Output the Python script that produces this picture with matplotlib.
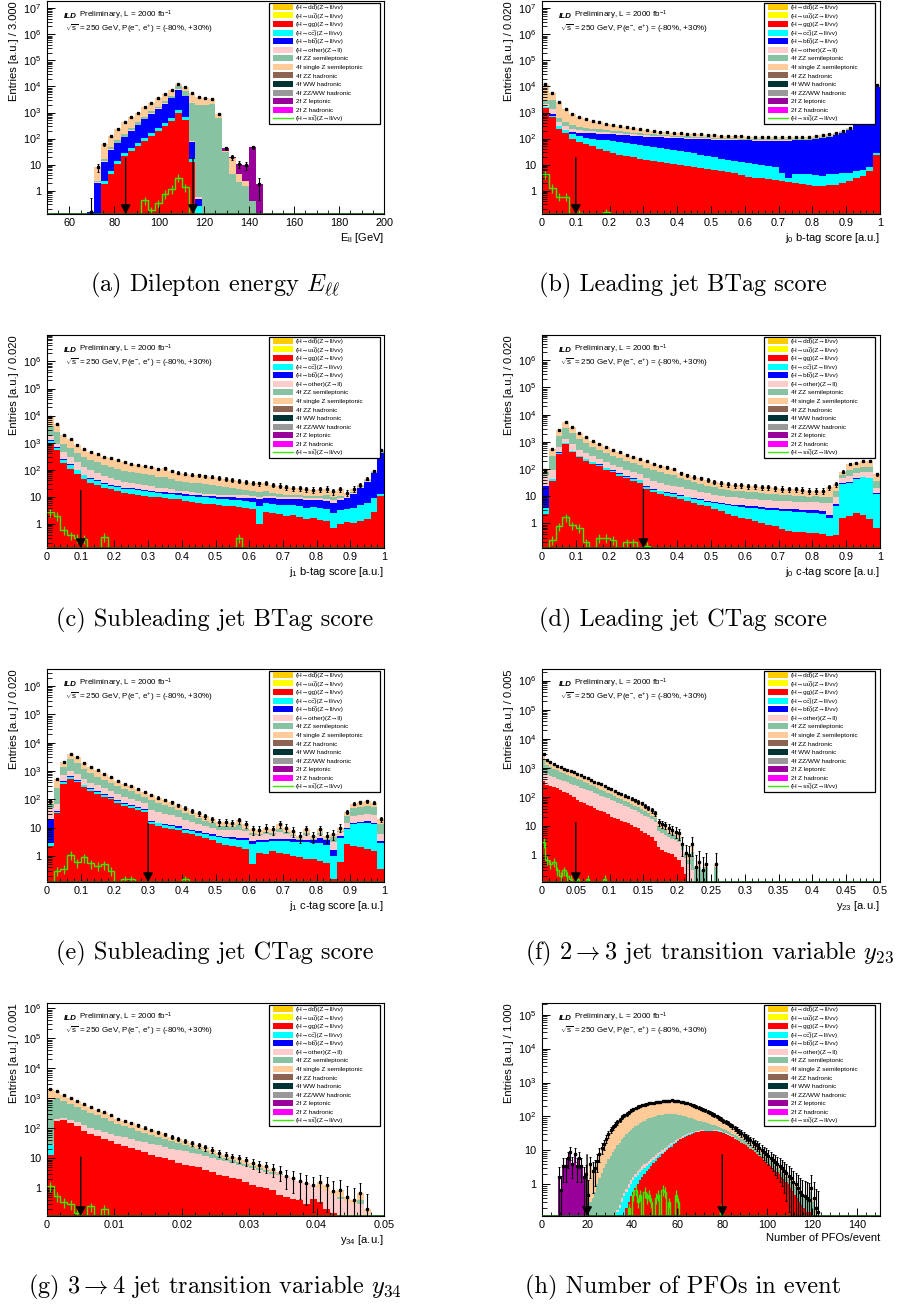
import numpy as np
import matplotlib
matplotlib.use("Agg")
import matplotlib.pyplot as plt
from matplotlib.patches import Rectangle
from matplotlib.lines import Line2D
from matplotlib.ticker import FixedLocator, FuncFormatter, LogLocator, NullFormatter, AutoMinorLocator
from matplotlib.offsetbox import TextArea, HPacker, AnchoredOffsetbox

plt.rcParams['font.family'] = ['Liberation Sans', 'DejaVu Sans']
plt.rcParams['mathtext.fontset'] = 'custom'
plt.rcParams['mathtext.rm'] = 'Liberation Sans'
plt.rcParams['mathtext.it'] = 'Liberation Sans:italic'
plt.rcParams['mathtext.bf'] = 'Liberation Sans:bold'

# colours (stack order bottom -> top)
C_RED, C_CYAN, C_BLUE, C_PINK = '#ff0000', '#00ffff', '#0000ff', '#ffcccc'
C_GREEN, C_PEACH, C_PURPLE = '#87c3a3', '#ffcc99', '#990099'
C_SIG = '#33ee00'

OV = '\u0305'  # combining overline for anti-quarks
legend_labels = [
    "(H→dd" + OV + ")(Z→ll/vv)", "(H→uu" + OV + ")(Z→ll/vv)",
    "(H→gg)(Z→ll/vv)", "(H→cc" + OV + ")(Z→ll/vv)", "(H→bb" + OV + ")(Z→ll/vv)",
    "(H→other)(Z→ll)", "4f ZZ semileptonic", "4f single Z semileptonic",
    "4f ZZ hadronic", "4f WW hadronic", "4f ZZ/WW hadronic",
    "2f Z leptonic", "2f Z hadronic",
]
legend_colors = ['#ffcc00', '#ffff00', C_RED, C_CYAN, C_BLUE, C_PINK, C_GREEN, C_PEACH,
                 '#8c6451', '#003333', '#999999', C_PURPLE, '#ff00ff']
signal_label = "(H→ss" + OV + ")(Z→ll/vv)"

# ---------------- (a) dilepton energy, bins of 3 GeV from 68 to 146
a_red = [0, 0, 1.8, 4.3, 11, 21, 32, 53, 80, 125, 200, 310, 480, 980, 530, 13, 0, 0, 0, 0, 0, 0, 0, 0, 0, 0]
a_cyan = [0, 0, 2.3, 5.6, 14, 27, 42, 68, 104, 162, 260, 400, 620, 1270, 690, 16, 0.25, 0, 0, 0, 0, 0, 0, 0, 0, 0]
a_blue = [0.15, 1.9, 13, 37, 65, 115, 200, 330, 560, 900, 1400, 2200, 3500, 7500, 4200, 75, 0.5, 0, 0, 0, 0, 0, 0, 0, 0, 0]
a_pink = [0.15, 2.1, 14, 39, 68, 120, 210, 345, 585, 940, 1460, 2300, 3650, 7800, 4400, 80, 0.55, 0, 0, 0, 0, 0, 0, 0, 0, 0]
a_green = [0.15, 2.4, 17, 48, 85, 150, 260, 420, 700, 1100, 1700, 2700, 4300, 10000, 6500, 2300, 2000, 1900, 2100, 600,
           30, 4.3, 2.1, 1.5, 0.4, 0]
a_peach = [0.15, 8, 62, 125, 240, 420, 650, 1000, 1600, 2400, 3500, 5300, 7500, 12500, 9500, 5500, 4100, 3600, 3400, 900,
           32, 18, 4.3, 2.4, 0.4, 0]
a_purple = [0, 0, 0, 0, 0, 0, 0, 0, 0, 0, 0, 0, 0, 0, 0, 0, 0, 0, 0, 0, 42, 20, 11, 9.5, 46, 1.8]
a_signal = [0, 0, 0, 0, 0, 0, 0, 0, 0.44, 0.18, 0.33, 0.77, 1.2, 3.2, 1.4]

# ---------------- (b) leading jet b-tag, 50 bins
b_red = [1500, 650, 240, 160, 100, 75, 60, 50, 40, 33, 28, 24, 21, 19, 17, 15, 14, 13, 12, 11,
         10, 9, 8.3, 7.6, 7, 6.4, 5.8, 5.2, 4.6, 4.0, 3.5, 3.2, 3.0, 2.8, 2.6, 2.4, 2.2, 2.0, 1.8, 1.6,
         1.5, 1.5, 1.6, 1.7, 2.0, 2.4, 3.0, 3.7, 5.7, 24]
b_cyan = [1600, 750, 300, 210, 150, 125, 110, 100, 92, 85, 78, 72, 66, 61, 56, 52, 48, 44, 40, 36,
          33, 30, 27, 24, 21, 19, 17, 15.5, 14, 13, 12, 11, 10, 9, 8, 5, 3.2, 4.2, 4.5, 4.2,
          4.0, 3.6, 4.2, 4.4, 4.6, 5, 5.5, 6.5, 8, 27]
b_blue = [1700, 900, 290, 200, 175, 170, 165, 160, 155, 150, 145, 140, 135, 130, 125, 120, 116, 113, 110, 106,
          103, 100, 98, 96, 94, 92, 90, 88, 87, 86, 85, 84, 84, 83, 83, 83, 84, 85, 86, 88,
          93, 102, 116, 135, 163, 216, 325, 560, 1320, 9400]
b_pink = [2200, 1400, 420, 300, 240, 220, 200, 190, 180, 172, 165, 158, 152, 146, 140, 134, 129, 125, 121, 117,
          113, 110, 108, 105, 103, 100, 98, 96, 94, 92, 90, 89, 88, 87, 87, 87, 88, 89, 90, 92,
          97, 106, 120, 140, 168, 222, 335, 575, 1350, 9600]
b_green = [2700, 3000, 640, 450, 330, 290, 260, 240, 225, 210, 200, 190, 180, 170, 160, 152, 146, 140, 134, 128,
           124, 121, 118, 115, 112, 109, 106, 104, 102, 100, 98, 96, 95, 94, 93, 93, 94, 95, 96, 98,
           103, 112, 127, 147, 175, 230, 345, 590, 1380, 9800]
b_total = [12000, 5700, 2500, 1400, 900, 700, 560, 480, 420, 370, 330, 300, 275, 250, 225, 205, 195, 185, 175, 165,
           160, 155, 150, 145, 140, 135, 130, 128, 125, 123, 120, 118, 117, 116, 115, 115, 116, 117, 118, 120,
           125, 135, 150, 170, 200, 260, 380, 650, 1500, 11000]
b_signal = [4.3, 1.3, 0.6, 0.6, 0, 0.14, 0, 0, 0, 0.15]

# ---------------- (c) subleading jet b-tag
c_red = [1000, 550, 170, 110, 70, 46, 33, 27, 22, 19, 16, 14, 13, 12, 11, 10, 9.5, 9, 8.5, 8,
         7, 6.5, 6, 5.5, 5.3, 5, 4.7, 4.4, 4.2, 4, 3.6, 1.0, 2.8, 2.6, 2.3, 2.0, 2.2, 1.8, 1.5, 1.6,
         1.4, 1.3, 0.7, 1.0, 1.2, 1.1, 1.3, 1.5, 2.8, 11]
c_cyan = [1200, 650, 230, 150, 95, 62, 45, 37, 30, 26, 23, 20, 19, 17.5, 16, 15, 14, 13, 12.5, 12,
          11, 10.5, 10, 9.5, 9, 8.5, 8, 7.8, 7.5, 7, 6.5, 4.5, 6, 5.5, 5, 4.8, 5, 4.5, 4, 4.2,
          4, 3.6, 2.5, 3.2, 3.5, 4, 5, 6, 9, 13]
c_blue = [1300, 700, 250, 160, 100, 66, 48, 40, 33, 28, 25, 22, 20.5, 19, 17.5, 16.5, 15.5, 14.5, 14, 13.5,
          12.5, 12, 11.5, 11, 10.5, 10, 9.8, 9.6, 9.4, 9.2, 9, 8, 9, 8.8, 8.5, 8.2, 8.5, 8, 7.5, 7.8,
          7.5, 7, 6, 7.5, 9, 13, 22, 35, 75, 400]
c_pink = [1800, 900, 450, 300, 190, 130, 95, 75, 60, 50, 42, 36, 32, 29, 27, 24, 22, 22, 19, 17,
          16, 15, 14, 13, 12.5, 12, 11.8, 11.6, 11.4, 11.2, 11, 10, 11, 10.5, 10, 9.8, 10, 9.5, 9, 9.2,
          9, 8.5, 7.5, 9, 10.5, 14, 23, 37, 78, 410]
c_green = [4300, 2400, 900, 650, 420, 300, 230, 190, 150, 130, 110, 92, 82, 75, 70, 62, 55, 56, 46, 39,
           36, 33, 31, 29, 27, 25, 23, 21, 19, 18, 16, 15, 16, 14, 13, 12, 11.5, 11.5, 11, 10.5,
           11, 11.5, 9.5, 11, 9, 15, 24, 40, 82, 480]
c_total = [8700, 4900, 1950, 1380, 850, 600, 460, 380, 300, 260, 220, 185, 165, 150, 140, 125, 110, 112, 92, 78,
           72, 66, 62, 58, 55, 50, 46, 42, 39, 36, 33, 31, 32, 28, 26, 23, 21, 21, 19, 18,
           19, 20, 16, 19, 14, 20, 28, 47, 90, 550]
c_signal = [2.7, 2.0, 0.6, 0.38, 0.3, 0.28, 0, 0, 0.33, 0, 0, 0, 0, 0, 0, 0, 0, 0, 0, 0,
            0, 0, 0, 0, 0, 0, 0, 0, 0.3]

# ---------------- (d) leading jet c-tag
d_red = [2.2, 37, 360, 800, 410, 270, 200, 160, 130, 95, 75, 57, 45, 37, 32, 18, 14, 12, 10, 9,
         7.7, 6.5, 5.5, 4.8, 4.2, 3.3, 2.8, 2.3, 1.9, 1.6, 1.4, 1.2, 1.0, 0.9, 0.8, 0.6, 0.55, 0.5, 0.5, 0.45,
         0.45, 0.4, 0.34, 0.39, 1.6, 1.9, 2.5, 2.0, 1.4, 0.7]
d_cyan = [3.8, 42, 400, 880, 450, 300, 225, 180, 145, 108, 86, 66, 53, 44, 38, 22, 17.5, 15, 13, 12,
          10.5, 9, 8, 7, 6.3, 5.5, 5, 4.6, 4.3, 4, 3.8, 3.6, 3.4, 3.2, 3, 2.9, 2.8, 2.7, 2.6, 2.5,
          2.5, 2.3, 1.6, 4.4, 28, 32, 42, 49, 45, 12]
d_blue = [24, 44, 420, 920, 470, 315, 235, 188, 152, 113, 90, 69, 56, 46, 40, 23, 18.5, 16, 14, 12.8,
          11.2, 9.7, 8.6, 7.6, 6.9, 6.1, 5.6, 5.2, 4.9, 4.6, 4.4, 4.2, 4.0, 3.8, 3.6, 3.5, 3.4, 3.3, 3.2, 3.1,
          3.1, 2.9, 2.1, 5.2, 30, 34, 45, 52, 48, 13]
d_pink = [60, 90, 650, 1300, 800, 520, 380, 300, 240, 180, 145, 115, 95, 80, 68, 45, 37, 31, 27, 24,
          21, 18.5, 16.5, 14.5, 13, 11.5, 10.5, 9.5, 9, 8.5, 8, 7.7, 7.4, 7, 6.8, 6.6, 6.5, 6.4, 6.2, 6,
          6, 5.8, 5.5, 9, 45, 55, 70, 80, 75, 20]
d_green = [75, 300, 1700, 3300, 2100, 1300, 880, 650, 500, 390, 310, 250, 205, 170, 140, 110, 92, 78, 66, 58,
           45, 39, 33, 28, 24, 21, 19, 17.5, 16, 15, 14.5, 14, 13, 12.5, 12, 11.5, 11, 10.5, 10, 9.5,
           10, 9.5, 9, 15, 60, 90, 105, 120, 120, 35]
d_total = [90, 560, 2700, 5500, 3500, 2200, 1500, 1100, 850, 650, 520, 420, 340, 280, 230, 190, 160, 135, 115, 100,
           70, 60, 52, 45, 39, 34, 30, 28, 26, 25, 24, 23, 22, 21, 20, 19, 18, 18, 17, 16,
           16, 16, 22, 28, 80, 150, 170, 200, 200, 65]
d_signal = [0, 0.25, 0.8, 1.7, 0.85, 0.7, 0.2, 0, 0.3, 0.3, 0.25, 0, 0.2, 0.2, 0, 0.15]

# ---------------- (e) subleading jet c-tag
e_red = [2.2, 32, 350, 520, 400, 270, 200, 160, 125, 100, 75, 60, 50, 43, 36, 13, 11.5, 10, 9, 8,
         6.6, 5.8, 5, 4.3, 3.7, 2.9, 2.5, 2.2, 2.0, 1.8, 0.5, 1.3, 1.2, 1.5, 1.3, 1.2, 1.0, 0.9, 0.8, 0.75,
         0.65, 0.55, 0.15, 0.6, 2.6, 2.2, 2.0, 1.8, 1.5, 0.34]
e_cyan = [2.8, 37, 400, 600, 460, 310, 230, 185, 145, 115, 87, 70, 58, 50, 42, 15.5, 14, 12, 11, 10,
          8.5, 7.5, 6.5, 5.8, 5.2, 4.5, 4.2, 4, 3.8, 3.6, 2.6, 3.0, 3.0, 3.3, 3.4, 3.3, 3.2, 3.0, 3.0, 2.9,
          2.9, 2.5, 1.0, 4.4, 8.6, 13, 14, 15, 13, 2.9]
e_blue = [20, 40, 430, 640, 490, 330, 245, 197, 155, 123, 93, 75, 62, 53, 45, 16.5, 15, 13, 12, 11,
          9.3, 8.3, 7.3, 6.5, 5.8, 5.2, 4.8, 4.6, 4.4, 4.2, 3.4, 3.6, 3.7, 4.0, 4.1, 4.0, 3.9, 3.7, 3.8, 3.8,
          4.4, 3.8, 1.6, 5.2, 9.5, 15, 16, 17, 15, 3.3]
e_pink = [50, 70, 750, 1000, 780, 520, 390, 310, 245, 195, 150, 120, 100, 85, 72, 42, 36, 31, 27, 23,
          19, 16, 13.5, 11.5, 10, 8.5, 8.2, 8, 8.5, 7.5, 5.5, 5.3, 6, 5.5, 7, 6, 5.2, 3.8, 5.5, 3.8,
          5.5, 3.8, 3.2, 7, 15, 25, 28, 30, 27, 6]
e_green = [70, 250, 1400, 2600, 1900, 1150, 820, 600, 470, 370, 290, 235, 190, 150, 120, 95, 76, 63, 52, 42,
           34, 27, 22, 17.5, 14, 11, 11, 10.5, 12.5, 9, 6.3, 6, 7.2, 6.3, 9, 7.2, 5.6, 4, 6.3, 4,
           6.3, 4, 4.5, 7.5, 25, 48, 54, 60, 52, 13]
e_total = [85, 530, 2100, 4000, 3100, 1900, 1400, 1050, 800, 600, 450, 360, 290, 230, 180, 145, 115, 95, 78, 63,
           50, 40, 32, 25, 20, 15.6, 15.6, 15, 18, 13, 8.6, 8.3, 10, 8.6, 13, 10, 7.5, 5, 8.6, 5,
           8.6, 5, 6, 10, 35, 70, 78, 85, 75, 20]
e_signal = [0, 0.3, 0.35, 1.1, 0.6, 0.9, 0.55, 0.45, 0.5, 0.3, 0, 0.15, 0.15, 0, 0, 0, 0, 0, 0, 0, 0.15]

# ---------------- (f) y23, bins of 0.005 (only filled range listed)
f_red = [350, 260, 230, 215, 200, 175, 150, 133, 117, 97, 80, 70, 60, 55, 50, 42, 36, 33, 31, 26,
         21, 19, 17, 15.5, 14, 12.5, 11, 9.5, 8.3, 7, 6, 5, 4.3, 3, 1.9, 1.5, 1.3, 1.2, 1.1, 0.9,
         0.67, 0.4, 0.23]
f_pink = [800, 600, 520, 470, 430, 390, 350, 320, 290, 260, 235, 210, 190, 170, 155, 140, 125, 112, 100, 90,
          80, 72, 64, 57, 51, 45, 40, 35, 31, 27, 23, 20, 17, 14, 7, 6, 5, 4.2, 3.6, 3.2,
          2.9, 1.5, 0.8, 0.5, 0.3]
f_green = [2000, 1300, 1100, 920, 820, 720, 650, 580, 520, 470, 420, 370, 330, 295, 260, 230, 200, 180, 160, 140,
           122, 107, 94, 83, 74, 66, 58, 51, 45, 39, 33, 28, 23, 19, 10, 8.5, 7.5, 6, 5.5, 4.8,
           4, 2, 1.1, 0.7, 1.3, 0.35, 0.4, 0.3, 0.4, 0, 0, 0.4]
f_total = [3000, 1900, 1600, 1350, 1200, 1050, 950, 850, 760, 700, 620, 550, 490, 440, 390, 340, 300, 270, 240, 210,
           185, 160, 140, 125, 112, 100, 88, 78, 68, 60, 50, 42, 35, 28, 14, 12, 11, 8.5, 7.5, 6.5,
           5.6, 2.5, 1.2, 1.0, 2.5, 0.4, 0.6, 0.3, 0.5, 0, 0, 0.5]
f_signal = [2.8, 0.7, 0.5, 0.6, 0.3, 0.2, 0.3, 0.2, 0.15, 0, 0.15, 0, 0, 0.15, 0, 0, 0, 0, 0.15]

# ---------------- (g) y34, bins of 0.001
g_red = [13, 170, 185, 150, 120, 80, 65, 55, 45, 37, 29, 25, 22, 19, 16, 13, 11.5, 10, 8.5, 7,
         6, 5.5, 5, 4.2, 3.5, 2.8, 2.5, 2.2, 2, 1.6, 1.3, 1.1, 1.0, 0.9, 0.6, 0.5, 0.45, 0.4, 0.3, 0.45,
         0.35, 0.2, 0.15]
g_cyan = [28]
g_pink = [30, 200, 215, 185, 160, 125, 105, 90, 78, 66, 57, 50, 44, 39, 34, 30, 27, 24, 21, 19,
          17, 15, 13.5, 12, 10.5, 9, 8, 7, 6.2, 5.4, 4.7, 4.1, 3.6, 3.1, 2.8, 2.4, 2, 1.7, 1.4, 1.3,
          1.0, 0.8, 0.6, 0.45, 0.35, 0.3, 0.3, 0.15]
g_green = [900, 1000, 800, 640, 520, 400, 330, 270, 220, 180, 140, 118, 100, 83, 70, 58, 50, 43, 37, 32,
           28, 24, 20, 17, 14.5, 12, 10, 8.5, 7.5, 6.5, 5.6, 4.8, 4.2, 3.6, 3, 2.4, 1.9, 1.5, 1.2, 1.0,
           1.0, 0.8, 0.6, 0.5, 0.35, 0.3, 0.4, 0.15]
g_total = [2000, 1700, 1300, 1000, 800, 640, 520, 420, 340, 270, 210, 177, 150, 125, 105, 88, 75, 63, 53, 45,
           38, 32, 27, 23, 19, 15, 13, 11, 10, 8.5, 7, 6, 5.5, 4.5, 3.6, 2.5, 2.2, 1.8, 1.5, 1.2,
           1.6, 1.3, 0.8, 0.9, 0.5, 0.4, 0.7, 0.2]
g_signal = [1.2, 0.55, 0.35, 0.3, 0.15, 0, 0.25, 0, 0.2]

# ---------------- (h) number of PFOs, bins of 1 from 6 to 124
h_red = [0, 0, 0, 0, 0, 0, 0, 0, 0, 0,
         0, 0, 0, 0, 0, 0, 0, 0, 0, 0,
         0, 0, 0, 0, 0, 0, 0, 0, 0, 0,
         0, 0.2, 0.3, 0.45, 0.6, 0.8, 1.0, 1.3, 1.6, 2.0,
         2.4, 2.9, 3.5, 4.2, 5.0, 5.8, 6.6, 7.6, 8.7, 10,
         11.5, 13, 15, 17, 19, 21, 23, 25, 27, 29,
         31, 33, 34, 35, 37, 37, 38, 38, 38, 38,
         37, 37, 36, 35, 33, 31, 29, 27, 25, 22,
         20, 18.5, 17, 15.5, 14, 12.5, 11, 10, 9, 8,
         7, 6, 5.3, 4.6, 4.0, 3.5, 3.0, 2.6, 2.3, 2.0,
         1.7, 1.4, 1.2, 1.0, 0.8, 0.65, 0.5, 0.4, 0.3, 0.25,
         0.2, 0.15, 0.15, 0.15, 0, 0, 0, 0]
h_cyan = [0, 0, 0, 0, 0, 0, 0, 0, 0, 0,
          0, 0, 0, 0, 0, 0, 0, 0, 0, 0,
          0, 0, 0, 0, 0, 0, 0, 0.15, 0.2, 0.3,
          0.45, 0.6, 0.8, 1.0, 1.3, 1.6, 1.9, 2.3, 2.7, 3.1,
          3.5, 4.0, 4.6, 5.3, 6.0, 6.8, 7.6, 8.6, 9.7, 11,
          12.5, 14, 16, 18, 20, 22, 24, 26, 28, 30,
          32, 34, 35, 36, 38, 38, 39, 39, 39, 39,
          38, 38, 37, 36, 34]
h_pink = [0, 0, 0, 0, 0, 0, 0, 0, 0, 0,
          0, 0, 0, 0, 0, 0, 0, 0, 0, 0,
          0, 0, 0, 0, 0, 0, 0, 0.18, 0.25, 0.4,
          0.55, 0.75, 1.0, 1.3, 1.6, 2.0, 2.4, 2.9, 3.4, 3.9,
          4.4, 5.0, 5.7, 6.5, 7.3, 8.2, 9.2, 10.3, 11.5, 13,
          14.5, 16, 18, 20, 22, 24, 26, 28, 30, 32,
          34, 36, 37, 38, 40, 40, 41, 41, 41, 41,
          40, 40, 39, 38, 36, 33, 31, 29, 27, 24]
h_green = [0, 0, 0, 0, 0, 0, 0, 0, 0, 0,
           0, 0, 0, 0, 0, 0.3, 0.4, 0.6, 1.0, 1.5,
           2.2, 3.0, 4.0, 5.5, 7, 9, 11, 14, 17, 21,
           25, 30, 35, 40, 46, 52, 58, 64, 70, 76,
           82, 88, 93, 98, 103, 107, 110, 113, 115, 117,
           118, 118, 117, 115, 112, 108, 104, 100, 96, 92,
           88, 84, 80, 76, 73, 70, 67, 64, 61, 58,
           55, 52, 49, 46, 43, 40, 37, 34, 31, 28,
           26, 24, 22, 20, 18, 16, 14.5, 13, 11.5, 10,
           9, 8, 7, 6.2, 5.5, 4.8, 4.2, 3.6, 3.1, 2.7,
           2.3, 2.0, 1.7, 1.4, 1.2, 1.0, 0.85, 0.7, 0.6, 0.5,
           0.45, 0.4, 0.35, 0.6, 0.3, 0, 0, 0]
h_peach = [0, 0, 0, 0, 0, 0, 0, 0, 0, 0,
           0, 0, 0, 0, 0.5, 4, 2.5, 3, 5, 8,
           12, 15, 22, 30, 40, 48, 58, 68, 80, 95,
           108, 120, 135, 150, 165, 180, 195, 205, 215, 225,
           235, 245, 250, 255, 262, 268, 275, 280, 285, 290,
           295, 300, 295, 290, 285, 275, 265, 255, 245, 232,
           220, 208, 195, 182, 170, 160, 150, 140, 130, 120,
           110, 100, 92, 84, 76, 70, 64, 57, 51, 45,
           40, 36, 32, 28, 25, 22, 20, 17.5, 15.5, 14,
           12, 10.5, 9, 8, 7, 6, 5.2, 4.5, 4, 3.5,
           3, 2.5, 2.1, 1.8, 1.5, 1.2, 1.0, 0.8, 0.6, 0.5,
           0.45, 0.4, 0.35, 0.8, 0.4, 0.2, 0.15, 0]
h_purple = [0, 1.7, 0.7, 3.5, 3.5, 6, 9, 4, 8, 3.5,
            6, 3.5, 1.7, 2]
h_signal = [0, 0, 0, 0, 0, 0, 0, 0, 0, 0,
            0, 0, 0, 0, 0, 0, 0, 0, 0, 0,
            0, 0, 0, 0, 0, 0, 0, 0, 0, 0,
            0, 0, 0.2, 0, 0.5, 0.7, 0.3, 0.5, 0, 0.6,
            0.4, 0.5, 0.3, 0, 0.4, 0.5, 0, 0.7, 0.6, 0,
            0.3, 0, 0, 0.5, 0.3, 0, 0, 0, 0, 0,
            0, 0, 0, 0, 0, 0, 0, 0, 0, 0,
            0, 0, 0, 0.2]

captions = ["(a) Dilepton energy $E_{\\ell\\ell}$", "(b) Leading jet BTag score",
            "(c) Subleading jet BTag score", "(d) Leading jet CTag score",
            "(e) Subleading jet CTag score", "(f) $2 \\rightarrow 3$ jet transition variable $y_{23}$",
            "(g) $3 \\rightarrow 4$ jet transition variable $y_{34}$", "(h) Number of PFOs in event"]

W, H = 901, 1306
fig = plt.figure(figsize=(W / 100, H / 100), dpi=100)
fig.patch.set_facecolor('white')


def fit(v, n):
    v = [float(x) for x in v][:n]
    return np.array(v + [0.0] * (n - len(v)))


def ylog_fmt(v, pos):
    if v <= 0:
        return ''
    e = np.log10(v)
    if abs(e - round(e)) > 1e-6:
        return ''
    e = int(round(e))
    if e == 0:
        return '1'
    if e == 1:
        return '10'
    if e < 0:
        return ''
    return '$10^{%d}$' % e


def add_axes(px_l, px_t, px_r, px_b):
    ax = fig.add_axes([px_l / W, 1 - px_b / H, (px_r - px_l) / W, (px_b - px_t) / H])
    return ax, px_r - px_l, px_b - px_t


def draw_legend(ax, wpx, hpx):
    # legend box laid out in pixels from the axes' top-left corner
    fx = lambda p: p / wpx
    fy = lambda p: 1 - p / hpx
    ax.add_patch(Rectangle((fx(222), fy(123)), fx(333) - fx(222), fy(1.5) - fy(123), transform=ax.transAxes,
                           facecolor='white', edgecolor='black', lw=0.9, zorder=10, clip_on=False))
    step = 8.56
    for i, (lab, col) in enumerate(zip(legend_labels + [signal_label], legend_colors + [None])):
        yc = 5.9 + i * step
        if col is None:
            ax.add_line(Line2D([fx(225.5), fx(245.5)], [fy(yc), fy(yc)], transform=ax.transAxes,
                               color=C_SIG, lw=1.0, zorder=11))
        else:
            ax.add_patch(Rectangle((fx(225.5), fy(yc + 3.0)), fx(20), 6.0 / hpx, transform=ax.transAxes,
                                   facecolor=col, edgecolor='none', zorder=11))
        ax.text(fx(249), fy(yc + 2.2), lab, transform=ax.transAxes, fontsize=4.6, va='baseline',
                ha='left', color='black', zorder=12)


def panel(ax, wpx, hpx, edges, layers, signal, xlim, ylim, xticks, xminor, xlabel, ylabel, cuts, arrow_top,
          err_w=1.0):
    n = len(edges) - 1
    vals = np.vstack([fit(v, n) for v, _ in layers])
    tops = np.maximum.accumulate(vals, axis=0)
    lo = 1e-3
    for k in range(len(layers) - 1, -1, -1):
        t = np.where(tops[k] > 0, tops[k], lo)
        ax.stairs(t, edges, baseline=lo, fill=True, color=layers[k][1], lw=0, zorder=1)

    total = tops[-1]
    centers = 0.5 * (edges[:-1] + edges[1:])
    m = total > 0
    err = np.sqrt(total[m] * err_w)
    ax.errorbar(centers[m], total[m], yerr=[np.minimum(err, total[m] * 0.999), err], fmt='s', ms=1.4,
                color='black', elinewidth=0.8, capsize=1.0, capthick=0.7, zorder=4)

    sig = fit(signal, n)
    ax.stairs(np.where(sig > 0, sig, lo), edges, baseline=None, color=C_SIG, lw=1.0, zorder=3)
    ms = sig > 0
    ax.errorbar(centers[ms], sig[ms], yerr=0.35 * sig[ms], fmt='none', ecolor=C_SIG, elinewidth=0.9, zorder=3)

    ax.set_yscale('log')
    ax.set_xlim(*xlim)
    ax.set_ylim(*ylim)
    ax.axhline(ylim[0], color='#1d5a1d', lw=2.0, zorder=3)

    for c in cuts:
        ax.annotate('', xy=(c, ylim[0]), xytext=(c, arrow_top),
                    arrowprops=dict(arrowstyle='-|>,head_length=0.55,head_width=0.3', color='black',
                                    lw=1.0, shrinkA=0, shrinkB=0, mutation_scale=10), zorder=5)

    ax.xaxis.set_major_locator(FixedLocator(xticks))
    ax.xaxis.set_major_formatter(FuncFormatter(lambda v, p: '%g' % round(v, 6)))
    ax.xaxis.set_minor_locator(AutoMinorLocator(xminor))
    ax.yaxis.set_major_locator(LogLocator(base=10, numticks=20))
    ax.yaxis.set_minor_locator(LogLocator(base=10, subs=np.arange(2, 10), numticks=20))
    ax.yaxis.set_major_formatter(FuncFormatter(ylog_fmt))
    ax.yaxis.set_minor_formatter(NullFormatter())
    ax.tick_params(which='both', direction='in', top=False, right=False, labelsize=7.8)
    ax.tick_params(axis='x', which='major', length=6, width=0.7, pad=3)
    ax.tick_params(axis='x', which='minor', length=3, width=0.6)
    ax.tick_params(axis='y', which='major', length=6, width=0.7, pad=4)
    ax.tick_params(axis='y', which='minor', length=3.5, width=0.6)
    for s in ax.spines.values():
        s.set_linewidth(0.8)
    ax.set_xlabel(xlabel, loc='right', fontsize=8, labelpad=2)
    ax.set_ylabel(ylabel, loc='top', fontsize=8, labelpad=3)

    # ILD label
    box = HPacker(children=[TextArea("ILD", textprops=dict(weight='bold', style='italic', size=5.8)),
                            TextArea(" Preliminary, L = 2000 fb$^{-1}$", textprops=dict(size=5.8))],
                  align='baseline', pad=0, sep=0)
    ab = AnchoredOffsetbox(loc='upper left', child=box, pad=0, borderpad=0, frameon=False,
                           bbox_to_anchor=(0.05, 0.962), bbox_transform=ax.transAxes)
    ax.add_artist(ab)
    ax.text(0.053, 0.90, "$\\sqrt{\\rm s}$ = 250 GeV, P(e$^{-}$, e$^{+}$) = (-80%, +30%)",
            transform=ax.transAxes, fontsize=5.8, va='top', ha='left')

    draw_legend(ax, wpx, hpx)


L = (47, 384)
R = (542, 880)
rows = [(1, 214), (335, 548), (669, 882), (1003, 1216)]
btag_ticks = [0, 0.1, 0.2, 0.3, 0.4, 0.5, 0.6, 0.7, 0.8, 0.9, 1.0]
edges50 = np.linspace(0, 1, 51)

ax, w, h = add_axes(L[0], rows[0][0], L[1], rows[0][1])
panel(ax, w, h, np.arange(68, 147, 3),
      [(a_red, C_RED), (a_cyan, C_CYAN), (a_blue, C_BLUE), (a_pink, C_PINK), (a_green, C_GREEN),
       (a_peach, C_PEACH), (a_purple, C_PURPLE)],
      a_signal, (50, 200), (0.128, 1.9e7), [60, 80, 100, 120, 140, 160, 180, 200], 4,
      "E$_{\\rm ll}$ [GeV]", "Entries [a.u.] / 3.000", [85, 115], 18)

ax, w, h = add_axes(R[0], rows[0][0], R[1], rows[0][1])
panel(ax, w, h, edges50,
      [(b_red, C_RED), (b_cyan, C_CYAN), (b_blue, C_BLUE), (b_pink, C_PINK), (b_green, C_GREEN),
       (b_total, C_PEACH)],
      b_signal, (0, 1), (0.128, 1.9e7), btag_ticks, 5,
      "j$_0$ b-tag score [a.u.]", "Entries [a.u.] / 0.020", [0.1], 18)

ax, w, h = add_axes(L[0], rows[1][0], L[1], rows[1][1])
panel(ax, w, h, edges50,
      [(c_red, C_RED), (c_cyan, C_CYAN), (c_blue, C_BLUE), (c_pink, C_PINK), (c_green, C_GREEN),
       (c_total, C_PEACH)],
      c_signal, (0, 1), (0.128, 9.5e6), btag_ticks, 5,
      "j$_1$ b-tag score [a.u.]", "Entries [a.u.] / 0.020", [0.1], 17)

ax, w, h = add_axes(R[0], rows[1][0], R[1], rows[1][1])
panel(ax, w, h, edges50,
      [(d_red, C_RED), (d_cyan, C_CYAN), (d_blue, C_BLUE), (d_pink, C_PINK), (d_green, C_GREEN),
       (d_total, C_PEACH)],
      d_signal, (0, 1), (0.125, 8.5e6), btag_ticks, 5,
      "j$_0$ c-tag score [a.u.]", "Entries [a.u.] / 0.020", [0.3], 18)

ax, w, h = add_axes(L[0], rows[2][0], L[1], rows[2][1])
panel(ax, w, h, edges50,
      [(e_red, C_RED), (e_cyan, C_CYAN), (e_blue, C_BLUE), (e_pink, C_PINK), (e_green, C_GREEN),
       (e_total, C_PEACH)],
      e_signal, (0, 1), (0.12, 4e6), btag_ticks, 5,
      "j$_1$ c-tag score [a.u.]", "Entries [a.u.] / 0.020", [0.3], 14)

ax, w, h = add_axes(R[0], rows[2][0], R[1], rows[2][1])
panel(ax, w, h, np.linspace(0, 0.26, 53),
      [(f_red, C_RED), (f_pink, C_PINK), (f_green, C_GREEN), (f_total, C_PEACH)],
      f_signal, (0, 0.5), (0.12, 2.5e6), [0, 0.05, 0.1, 0.15, 0.2, 0.25, 0.3, 0.35, 0.4, 0.45, 0.5], 5,
      "y$_{23}$ [a.u.]", "Entries [a.u.] / 0.005", [0.05], 13)

ax, w, h = add_axes(L[0], rows[3][0], L[1], rows[3][1])
panel(ax, w, h, np.linspace(0, 0.05, 51),
      [(g_red, C_RED), (g_cyan, C_CYAN), (g_pink, C_PINK), (g_green, C_GREEN), (g_total, C_PEACH)],
      g_signal, (0, 0.05), (0.12, 1.5e6), [0, 0.01, 0.02, 0.03, 0.04, 0.05], 5,
      "y$_{34}$ [a.u.]", "Entries [a.u.] / 0.001", [0.005], 11)

ax, w, h = add_axes(R[0], rows[3][0], R[1], rows[3][1])
panel(ax, w, h, np.arange(6, 125),
      [(h_red, C_RED), (h_cyan, C_CYAN), (h_pink, C_PINK), (h_green, C_GREEN), (h_peach, C_PEACH),
       (h_purple, C_PURPLE)],
      h_signal, (0, 150), (0.117, 2.2e5), [0, 20, 40, 60, 80, 100, 120, 140], 5,
      "Number of PFOs/event", "Entries [a.u.] / 1.000", [20, 80], 7.5, err_w=1.5)

cap_pos = [(215, 285), (683, 285), (215, 620), (683, 620), (215, 953), (709, 953), (215, 1287), (683, 1287)]
for txt, (cx, cy) in zip(captions, cap_pos):
    fig.text(cx / W, 1 - cy / H, txt, ha='center', va='center', fontsize=17.5,
             family='cmr10', math_fontfamily='cm')

fig.savefig('out.png', dpi=100, facecolor='white')
